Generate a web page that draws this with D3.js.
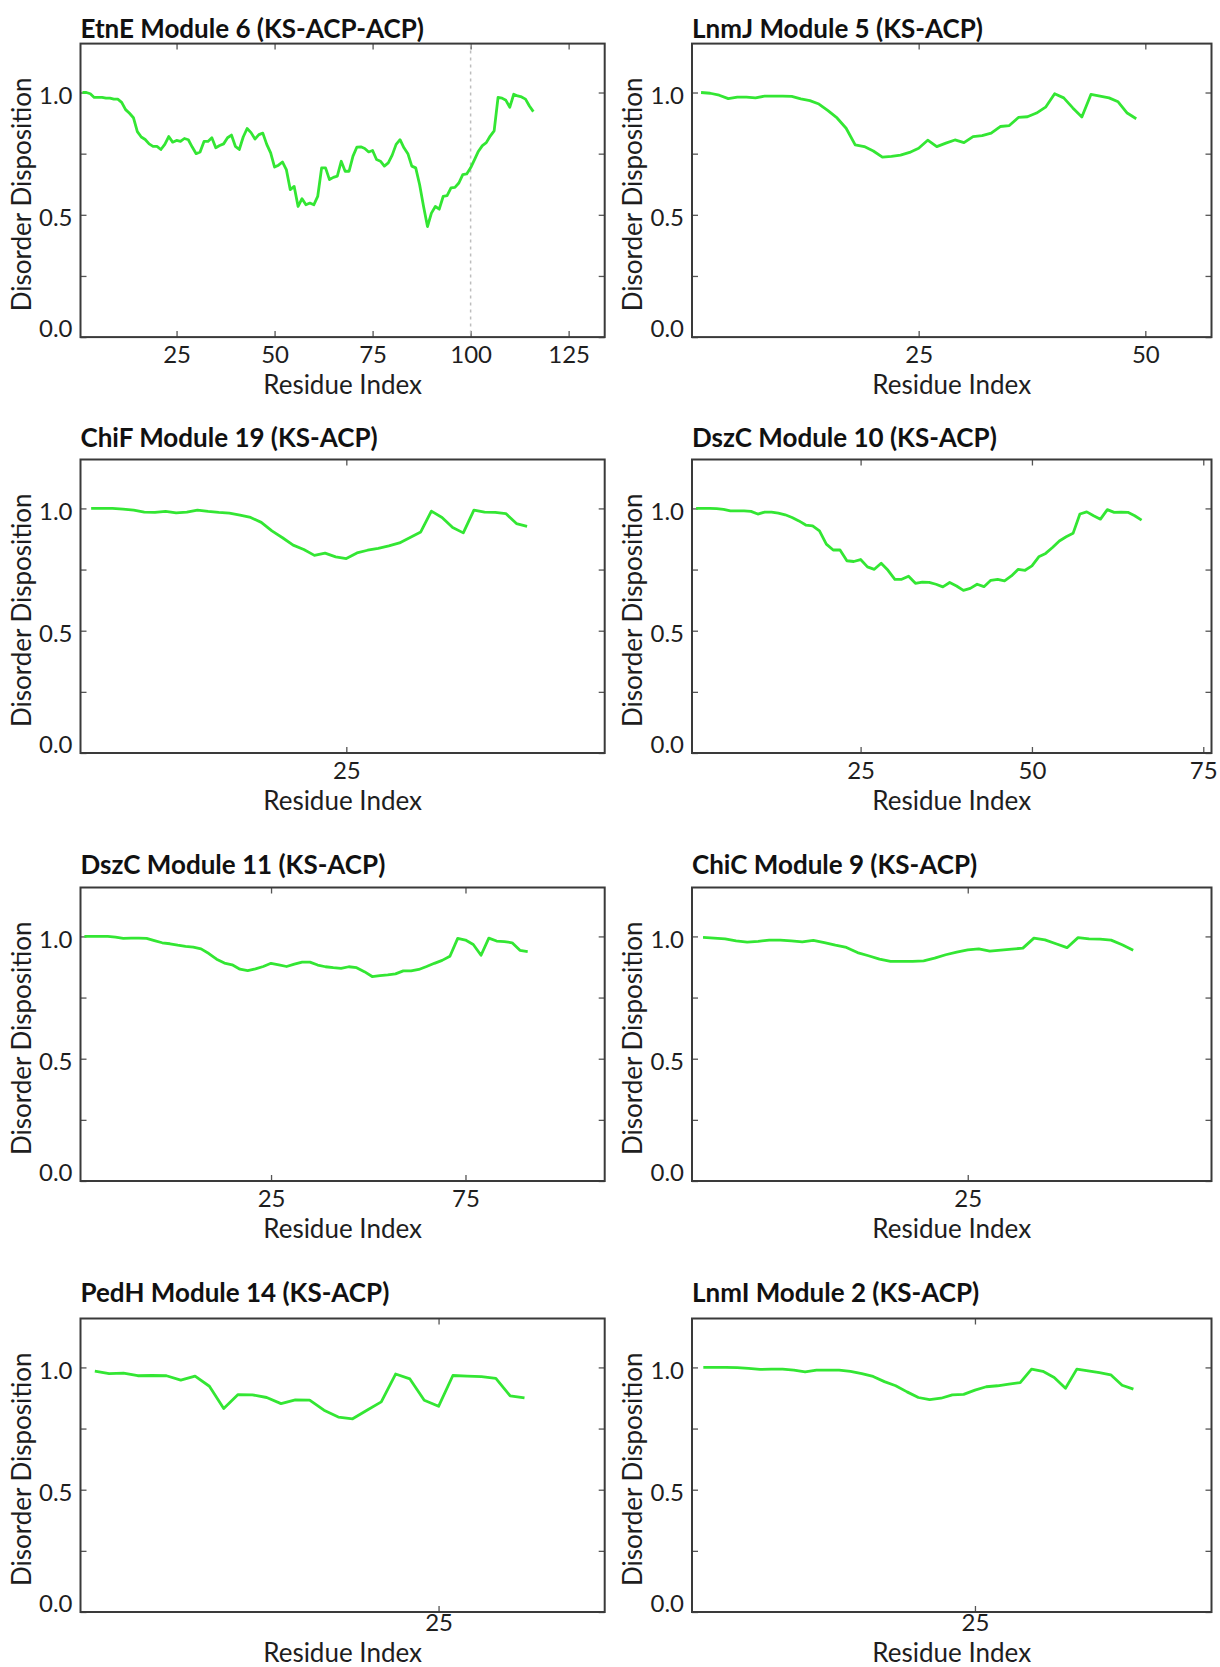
<!DOCTYPE html>
<html>
<head>
<meta charset="utf-8">
<script src="https://cdn.jsdelivr.net/npm/d3@7"></script>
<style>
  body { margin: 0; background: #fff; }
  text { font-family: Lato, "Open Sans", sans-serif; fill: #1e1e1e; }
</style>
</head>
<body>
<svg id="chart" width="1220" height="1667"></svg>
<script>
// disorder disposition per residue (residue 1..N)
var etnE6 = [1.0, 1.0, 0.995, 0.98, 0.98, 0.98, 0.977, 0.977, 0.973, 0.973,
  0.96, 0.93, 0.915, 0.897, 0.84, 0.818, 0.808, 0.79, 0.78, 0.78,
  0.767, 0.788, 0.82, 0.797, 0.804, 0.8, 0.812, 0.807, 0.777, 0.75,
  0.757, 0.8, 0.8, 0.815, 0.774, 0.783, 0.79, 0.815, 0.826, 0.78,
  0.767, 0.818, 0.853, 0.836, 0.81, 0.828, 0.834, 0.788, 0.753, 0.695,
  0.703, 0.716, 0.685, 0.603, 0.616, 0.534, 0.566, 0.541, 0.548, 0.541,
  0.575, 0.692, 0.692, 0.644, 0.653, 0.658, 0.719, 0.678, 0.678, 0.74,
  0.777, 0.778, 0.771, 0.757, 0.763, 0.726, 0.719, 0.699, 0.712, 0.744,
  0.788, 0.807, 0.774, 0.75, 0.699, 0.692, 0.623, 0.534, 0.452, 0.507,
  0.534, 0.523, 0.575, 0.578, 0.61, 0.612, 0.63, 0.664, 0.667, 0.692,
  0.726, 0.76, 0.783, 0.795, 0.822, 0.843, 0.98, 0.977, 0.968, 0.94,
  0.993, 0.986, 0.982, 0.973, 0.945, 0.922]

var lnmJ5 = [1.0, 0.997, 0.989, 0.975, 0.981, 0.981, 0.978, 0.985, 0.985, 0.985,
  0.984, 0.974, 0.967, 0.953, 0.926, 0.896, 0.854, 0.786, 0.779, 0.761,
  0.736, 0.739, 0.744, 0.755, 0.772, 0.805, 0.779, 0.793, 0.806, 0.795,
  0.82, 0.824, 0.834, 0.861, 0.865, 0.898, 0.901, 0.916, 0.94, 0.995,
  0.978, 0.937, 0.9, 0.992, 0.985, 0.978, 0.962, 0.916, 0.893]

var chiF19 = [1.0, 1.0, 1.0, 0.997, 0.993, 0.985, 0.984, 0.988, 0.982, 0.985,
  0.993, 0.988, 0.984, 0.981, 0.973, 0.963, 0.943, 0.908, 0.88, 0.85,
  0.832, 0.808, 0.817, 0.802, 0.795, 0.818, 0.829, 0.837, 0.847, 0.859,
  0.881, 0.904, 0.989, 0.963, 0.922, 0.9, 0.993, 0.985, 0.984, 0.979,
  0.938, 0.927]

var dszC10 = [1.0, 1.0, 1.0, 0.999, 0.996, 0.99, 0.99, 0.99, 0.988, 0.977,
  0.985, 0.985, 0.981, 0.974, 0.963, 0.949, 0.932, 0.929, 0.908, 0.854,
  0.83, 0.83, 0.786, 0.783, 0.791, 0.761, 0.751, 0.776, 0.747, 0.71,
  0.71, 0.723, 0.694, 0.699, 0.698, 0.69, 0.679, 0.697, 0.683, 0.665,
  0.673, 0.69, 0.68, 0.706, 0.71, 0.704, 0.724, 0.751, 0.747, 0.765,
  0.802, 0.816, 0.84, 0.867, 0.884, 0.898, 0.977, 0.986, 0.97, 0.956,
  0.995, 0.984, 0.985, 0.984, 0.97, 0.952]

var dszC11 = [1.0, 1.0, 1.0, 1.0, 0.997, 0.992, 0.993, 0.993, 0.992, 0.983,
  0.974, 0.97, 0.964, 0.959, 0.956, 0.949, 0.93, 0.907, 0.891, 0.884,
  0.866, 0.86, 0.867, 0.877, 0.89, 0.884, 0.877, 0.887, 0.895, 0.895,
  0.883, 0.876, 0.872, 0.869, 0.876, 0.872, 0.856, 0.836, 0.84, 0.843,
  0.847, 0.859, 0.859, 0.865, 0.877, 0.89, 0.902, 0.919, 0.992, 0.985,
  0.967, 0.923, 0.993, 0.981, 0.979, 0.974, 0.943, 0.938]

var chiC9 = [0.996, 0.993, 0.99, 0.982, 0.977, 0.98, 0.985, 0.985, 0.982, 0.978,
  0.984, 0.975, 0.964, 0.955, 0.934, 0.921, 0.907, 0.898, 0.898, 0.898,
  0.9, 0.911, 0.925, 0.936, 0.945, 0.949, 0.94, 0.944, 0.948, 0.952,
  0.993, 0.986, 0.97, 0.954, 0.995, 0.99, 0.989, 0.985, 0.966, 0.943]

var pedH14 = [0.985, 0.975, 0.977, 0.966, 0.967, 0.966, 0.948, 0.964, 0.923, 0.832,
  0.889, 0.888, 0.877, 0.852, 0.867, 0.866, 0.825, 0.797, 0.79, 0.825,
  0.859, 0.973, 0.953, 0.866, 0.841, 0.967, 0.964, 0.962, 0.955, 0.884,
  0.875]

var lnmI2 = [1.0, 1.0, 1.0, 0.999, 0.996, 0.992, 0.993, 0.993, 0.989, 0.982,
  0.989, 0.989, 0.989, 0.984, 0.975, 0.963, 0.942, 0.925, 0.9, 0.877,
  0.868, 0.874, 0.888, 0.89, 0.907, 0.921, 0.925, 0.932, 0.938, 0.993,
  0.984, 0.959, 0.915, 0.993, 0.986, 0.979, 0.97, 0.927, 0.911]

var titles = ["EtnE Module 6 (KS-ACP-ACP)", "LnmJ Module 5 (KS-ACP)",
  "ChiF Module 19 (KS-ACP)", "DszC Module 10 (KS-ACP)",
  "DszC Module 11 (KS-ACP)", "ChiC Module 9 (KS-ACP)",
  "PedH Module 14 (KS-ACP)", "LnmI Module 2 (KS-ACP)"]
var series = [etnE6, lnmJ5, chiF19, dszC10, dszC11, chiC9, pedH14, lnmI2]
var xDomains = [[0.5, 134.2], [0, 57.3], [0, 49.3], [0.4, 76.2],
  [0.5, 67.9], [0, 47.1], [0, 36.6], [0, 45.9]]
var xTicks = [[25, 50, 75, 100, 125], [25, 50], [25], [25, 50, 75],
  [25, 50], [25], [25], [25]]
var xTickLabels = [["25", "50", "75", "100", "125"], ["25", "50"], ["25"], ["25", "50", "75"],
  ["25", "75"], ["25"], ["25"], ["25"]]
var boundaries = [[100], [], [], [], [], [], [], []]   // dotted domain boundary
var yTicks = [0, 0.25, 0.5, 0.75, 1.0]
var yTickLabels = ["0.0", "", "0.5", "", "1.0"]
var xTitle = "Residue Index", yTitle = "Disorder Disposition"

// layout of the 4x2 grid
var cols = [{left: 80.5, right: 604.7}, {left: 692, right: 1211.5}]
var rows = [
  {top: 43.6, titleY: 37.5, tickY: 26, xTitleY: 57},
  {top: 459.5, titleY: 447, tickY: 26, xTitleY: 57},
  {top: 887.5, titleY: 873.5, tickY: 26, xTitleY: 57},
  {top: 1318.5, titleY: 1302, tickY: 18.5, xTitleY: 49.5}]
var plotH = 293.5
var tick = 6

var svg = d3.select("#chart")

series.forEach(function(values, k) {
  var col = cols[k % 2], row = rows[Math.floor(k / 2)]
  var w = col.right - col.left, h = plotH

  var g = svg.append("g")
    .attr("transform", "translate(" + col.left + "," + row.top + ")")

  var x = d3.scaleLinear().domain(xDomains[k]).range([0, w])
  var y = d3.scaleLinear().domain([0, 1.2]).range([h, 0])

  // title
  g.append("text")
    .attr("x", 0)
    .attr("y", row.titleY - row.top)
    .style("font-size", "26px")
    .style("font-weight", "bold")
    .style("fill", "#111")
    .text(titles[k])

  // axes (inward ticks on all four sides)
  var left = g.append("g")
    .call(d3.axisLeft(y).tickValues(yTicks).tickSize(-tick).tickPadding(8)
      .tickFormat(function(d, i) { return yTickLabels[i] }))
  g.append("g")
    .attr("transform", "translate(" + w + ",0)")
    .call(d3.axisRight(y).tickValues(yTicks).tickSize(-tick).tickFormat(""))
  var bottom = g.append("g")
    .attr("transform", "translate(0," + h + ")")
    .call(d3.axisBottom(x).tickValues(xTicks[k]).tickSize(-tick)
      .tickFormat(function(d, i) { return xTickLabels[k][i] }))
  g.append("g")
    .call(d3.axisTop(x).tickValues(xTicks[k]).tickSize(-tick).tickFormat(""))

  g.selectAll(".domain").remove()
  g.selectAll(".tick line").attr("stroke", "#555").attr("stroke-width", 1.3)

  left.selectAll("text")
    .style("font-size", "24px")
    .attr("dy", "0.45em")
    .attr("y", function(d) { return d === 0 ? -11 : 0 })
  bottom.selectAll("text")
    .style("font-size", "24px")
    .attr("dy", null)
    .attr("y", row.tickY)

  // dotted boundary marker
  g.selectAll(".boundary")
    .data(boundaries[k])
    .enter().append("line")
    .attr("class", "boundary")
    .attr("x1", x).attr("x2", x)
    .attr("y1", 0).attr("y2", h)
    .attr("stroke", "#bdbdbd")
    .attr("stroke-width", 1.5)
    .attr("stroke-dasharray", "3,4")

  // the disorder curve
  var line = d3.line()
    .x(function(d, i) { return x(i + 1) })
    .y(function(d) { return y(d) })

  g.append("path")
    .datum(values)
    .attr("d", line)
    .attr("fill", "none")
    .attr("stroke", "#33e633")
    .attr("stroke-width", 2.8)
    .attr("stroke-linejoin", "round")

  // frame
  g.append("rect")
    .attr("width", w).attr("height", h)
    .attr("fill", "none")
    .attr("stroke", "#3a3a3a")
    .attr("stroke-width", 2)

  // axis titles
  g.append("text")
    .attr("x", w / 2)
    .attr("y", h + row.xTitleY)
    .attr("text-anchor", "middle")
    .style("font-size", "26px")
    .text(xTitle)

  g.append("text")
    .attr("transform", "translate(-50," + (h / 2 + 4) + ") rotate(-90)")
    .attr("text-anchor", "middle")
    .style("font-size", "26px")
    .text(yTitle)
})
</script>
</body>
</html>
